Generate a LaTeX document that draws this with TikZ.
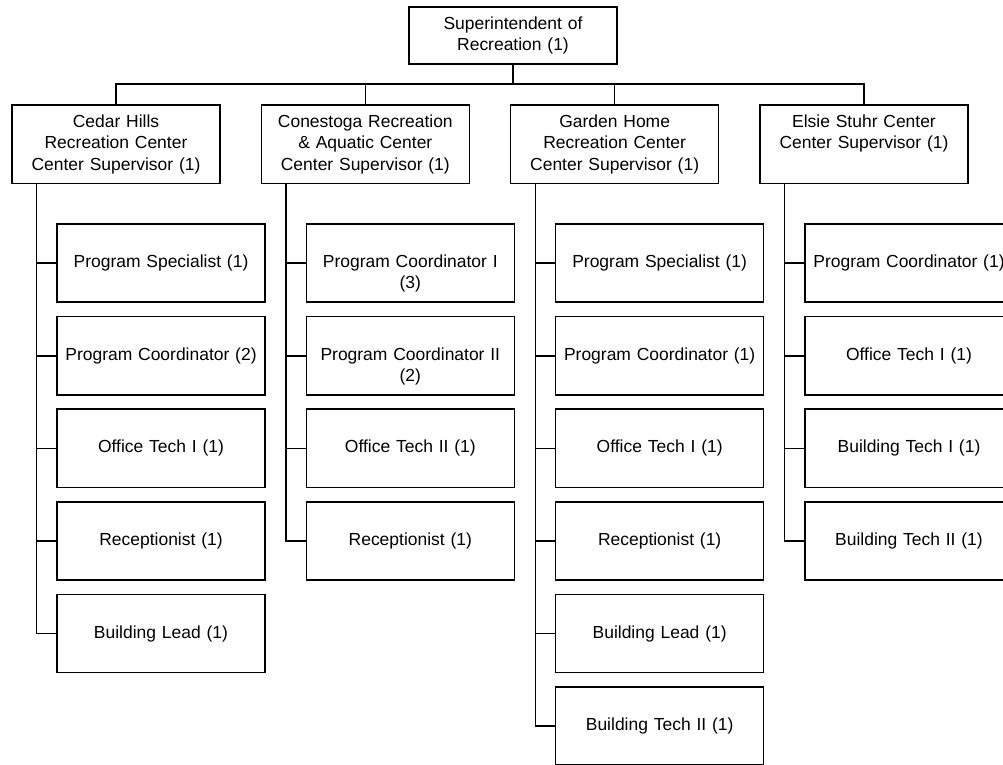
\documentclass[tikz,border=0pt]{standalone}
\usepackage{fontspec}
\setmainfont{Liberation Sans}
\usepackage{tikz}
\usetikzlibrary{positioning}
\newcommand{\orgfont}{\fontsize{13.1}{16}\selectfont}
\tikzset{
  topbox/.style={rectangle, draw=black, line width=1.2pt, text width=148pt,
    inner xsep=4pt, inner ysep=2pt, align=center, minimum height=42.75pt, font=\orgfont},
  sitebox/.style={topbox, minimum height=58.7pt},
  rolebox/.style={topbox, minimum height=58.7pt},
  link/.style={line width=1.2pt, draw=black},
}

\begin{document}
\begin{tikzpicture}[node distance=9.55pt]
  \useasboundingbox (-384.75pt,26.6pt) rectangle (367.5pt,-546.4pt);
  \node[topbox] (sup) {Superintendent of\\Recreation (1)};

  \node[sitebox] (ch) at (-297.75pt,-81.55pt) {Cedar Hills\\Recreation Center\\Center Supervisor (1)};
  \node[sitebox, right=29.8pt of ch] (co) {Conestoga Recreation\\\& Aquatic Center\\Center Supervisor (1)};
  \node[sitebox, right=29.8pt of co] (gh) {Garden Home\\Recreation Center\\Center Supervisor (1)};
  \node[sitebox, right=29.8pt of gh] (es) {Elsie Stuhr Center\\Center Supervisor (1)\\\phantom{C(1)}};

  % Cedar Hills
  \node[rolebox, below right=29.3pt and 33.75pt of ch.south west] (ch1) {Program Specialist (1)};
  \node[rolebox, below=of ch1] (ch2) {Program Coordinator (2)};
  \node[rolebox, below=of ch2] (ch3) {Office Tech I (1)};
  \node[rolebox, below=of ch3] (ch4) {Receptionist (1)};
  \node[rolebox, below=of ch4] (ch5) {Building Lead (1)};

  % Conestoga
  \node[rolebox, below right=29.3pt and 33.75pt of co.south west] (co1) {\phantom{(3)}\\Program Coordinator I\\(3)};
  \node[rolebox, below=of co1] (co2) {\phantom{(2)}\\Program Coordinator II\\(2)};
  \node[rolebox, below=of co2] (co3) {Office Tech II (1)};
  \node[rolebox, below=of co3] (co4) {Receptionist (1)};

  % Garden Home
  \node[rolebox, below right=29.3pt and 33.75pt of gh.south west] (gh1) {Program Specialist (1)};
  \node[rolebox, below=of gh1] (gh2) {Program Coordinator (1)};
  \node[rolebox, below=of gh2] (gh3) {Office Tech I (1)};
  \node[rolebox, below=of gh3] (gh4) {Receptionist (1)};
  \node[rolebox, below=of gh4] (gh5) {Building Lead (1)};
  \node[rolebox, below=of gh5] (gh6) {Building Tech II (1)};

  % Elsie Stuhr
  \node[rolebox, below right=29.3pt and 33.75pt of es.south west] (es1) {Program Coordinator (1)};
  \node[rolebox, below=of es1] (es2) {Office Tech I (1)};
  \node[rolebox, below=of es2] (es3) {Building Tech I (1)};
  \node[rolebox, below=of es3] (es4) {Building Tech II (1)};

  \draw[link] (sup.south) -- ++(0,-14.6pt) -| (ch.north);
  \draw[link] (sup.south) -- ++(0,-14.6pt) -| (co.north);
  \draw[link] (sup.south) -- ++(0,-14.6pt) -| (gh.north);
  \draw[link] (sup.south) -- ++(0,-14.6pt) -| (es.north);

  \coordinate (chs) at ([xshift=19.1pt]ch.south west);
  \draw[link] (chs) |- (ch1.west);
  \draw[link] (chs) |- (ch2.west);
  \draw[link] (chs) |- (ch3.west);
  \draw[link] (chs) |- (ch4.west);
  \draw[link] (chs) |- (ch5.west);

  \coordinate (cos) at ([xshift=19.1pt]co.south west);
  \draw[link] (cos) |- (co1.west);
  \draw[link] (cos) |- (co2.west);
  \draw[link] (cos) |- (co3.west);
  \draw[link] (cos) |- (co4.west);

  \coordinate (ghs) at ([xshift=19.1pt]gh.south west);
  \draw[link] (ghs) |- (gh1.west);
  \draw[link] (ghs) |- (gh2.west);
  \draw[link] (ghs) |- (gh3.west);
  \draw[link] (ghs) |- (gh4.west);
  \draw[link] (ghs) |- (gh5.west);
  \draw[link] (ghs) |- (gh6.west);

  \coordinate (ess) at ([xshift=19.1pt]es.south west);
  \draw[link] (ess) |- (es1.west);
  \draw[link] (ess) |- (es2.west);
  \draw[link] (ess) |- (es3.west);
  \draw[link] (ess) |- (es4.west);
\end{tikzpicture}
\end{document}
